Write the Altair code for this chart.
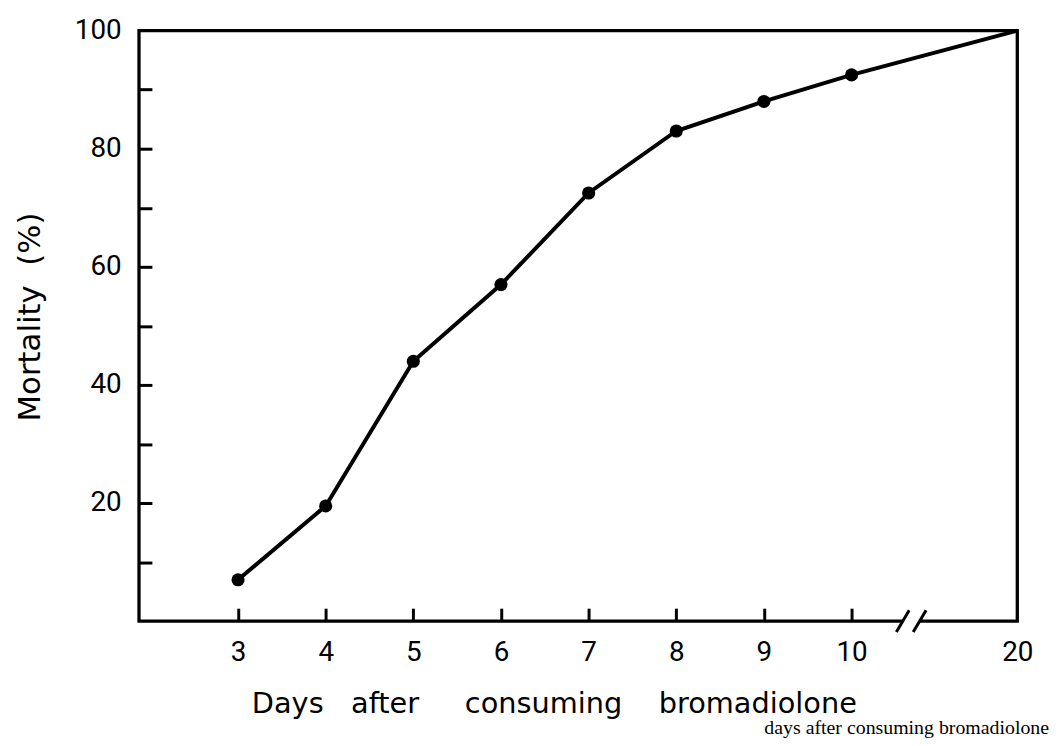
import altair as alt
import pandas as pd

# ---- data ----
days = [3, 4, 5, 6, 7, 8, 9, 10, 20]
mortality = [7, 19.5, 44, 57, 72.5, 83, 88, 92.5, 100]
marker_shown = [True, True, True, True, True, True, True, True, False]

x_label_values = [3, 4, 5, 6, 7, 8, 9, 10, 20]
x_tick_values = [3, 4, 5, 6, 7, 8, 9, 10]
y_label_values = [20, 40, 60, 80, 100]
y_tick_values = [10, 20, 30, 40, 50, 60, 70, 80, 90]

# broken x axis: 10 -> 20 is compressed into a short segment
x_domain = [1.87, 10, 20]
x_range = [0, 718, 885]
y_domain = [0, 100]
break_at = [13.6]

x_title = "Days\u00a0\u00a0\u00a0after\u00a0\u00a0\u00a0\u00a0\u00a0consuming\u00a0\u00a0\u00a0\u00a0bromadiolone"
y_title = "Mortality\u00a0\u00a0(%)"
caption = ["days after consuming bromadiolone"]

W, H = 885, 595

df = pd.DataFrame({"day": days, "mortality": mortality, "marker": marker_shown})

xs = alt.Scale(domain=x_domain, range=x_range, nice=False, zero=False)
ys = alt.Scale(domain=y_domain, nice=False, zero=False)

label_style = dict(labelFont="Roboto", labelFontSize=28, labelColor="black",
                   labelFlush=False, labelOverlap=False, grid=False, domain=False,
                   ticks=False, tickSize=0)

line = alt.Chart(df).mark_line(color="black", strokeWidth=4).encode(
    x=alt.X("day:Q", scale=xs, axis=alt.Axis(
        orient="bottom", values=x_label_values, labelPadding=18,
        title=x_title, titleFont="DejaVu Sans", titleFontSize=29,
        titleFontWeight="normal", titleColor="black", titleX=418, titleY=92,
        titleBaseline="alphabetic", titleAlign="center", **label_style)),
    y=alt.Y("mortality:Q", scale=ys, axis=alt.Axis(
        orient="left", values=y_label_values, labelPadding=18,
        title=y_title, titleFont="DejaVu Sans", titleFontSize=31,
        titleFontWeight="normal", titleColor="black", titleX=-100, titleY=288,
        titleAngle=270, titleBaseline="alphabetic", titleAlign="center",
        **label_style)),
)

tick_style = dict(labels=False, domain=False, grid=False, tickSize=13,
                  tickWidth=3, tickColor="black", title="")

pts = alt.Chart(df).transform_filter("datum.marker").mark_circle(
    color="black", size=175, opacity=1
).encode(
    x=alt.X("day:Q", scale=xs, axis=alt.Axis(
        orient="top", offset=-H, values=x_tick_values, **tick_style)),
    y=alt.Y("mortality:Q", scale=ys, axis=alt.Axis(
        orient="right", offset=-W, values=y_tick_values, **tick_style)),
)

brk = alt.Chart(pd.DataFrame({"b": break_at}))
brk_enc = dict(
    x=alt.X("b:Q", scale=xs, axis=None),
    x2=alt.X2("b:Q"),
    y=alt.Y(datum=0, scale=ys, axis=None),
    y2=alt.Y2(datum=0),
)
gap = brk.mark_rule(color="white", strokeWidth=8, xOffset=-8, x2Offset=8).encode(**brk_enc)
slash1 = brk.mark_rule(color="black", strokeWidth=3, xOffset=-15, x2Offset=-2,
                       yOffset=11, y2Offset=-11).encode(**brk_enc)
slash2 = brk.mark_rule(color="black", strokeWidth=3, xOffset=2, x2Offset=15,
                       yOffset=11, y2Offset=-11).encode(**brk_enc)

cap = alt.Chart(pd.DataFrame({"t": caption})).mark_text(
    align="right", baseline="alphabetic", font="Liberation Serif",
    fontSize=20, color="black"
).encode(text="t:N", x=alt.value(917), y=alt.value(709))

chart = alt.layer(line, pts, gap, slash1, slash2, cap).resolve_axis(
    x="independent", y="independent"
).properties(
    width=W, height=H,
    autosize="none",
    padding={"left": 132, "top": 20, "right": 38, "bottom": 115},
    background="white",
).configure_view(stroke="black", strokeWidth=3.3)

chart.save("out.html", embed_options={"renderer": "svg", "actions": False})
